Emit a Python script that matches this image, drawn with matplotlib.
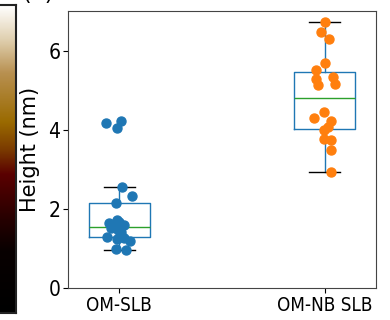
import matplotlib
matplotlib.use("Agg")
import matplotlib.pyplot as plt
import numpy as np
from matplotlib.colors import LinearSegmentedColormap

# data
groups = ["OM-SLB", "OM-NB SLB"]
slb_height = [4.17, 4.05, 4.22, 2.55, 2.32, 2.16, 1.72, 1.68, 1.64, 1.60, 1.54,
              1.51, 1.47, 1.42, 1.35, 1.28, 1.26, 1.24, 1.20, 0.98, 0.95]
slb_jitter = [-0.065, -0.013, 0.008, 0.015, 0.063, -0.015, -0.01, 0.0, -0.05, 0.024, -0.024,
              -0.04, -0.005, 0.01, 0.008, -0.06, 0.024, -0.01, 0.05, -0.016, 0.033]
nb_height = [6.73, 6.46, 6.29, 5.68, 5.52, 5.32, 5.28, 5.15, 5.14, 4.44, 4.29,
             4.23, 4.08, 4.00, 3.77, 3.73, 3.48, 2.93]
nb_jitter = [0.0, -0.016, 0.02, 0.0, -0.04, 0.04, -0.04, 0.052, -0.034, -0.005, -0.054,
             0.033, 0.015, -0.005, -0.003, 0.03, 0.03, 0.033]
yticks = [0, 2, 4, 6]

# colour scale of the AFM image (bottom -> top)
cbar_stops = [0.0, 0.2, 0.3, 0.45, 0.53, 0.62, 0.78, 0.89, 1.0]
cbar_colors = ["#000000", "#080000", "#250000", "#5a0000", "#7a3a00",
               "#9a6a00", "#b89050", "#e0d0b0", "#ffffff"]

fig = plt.figure(figsize=(3.9, 3.2), dpi=100)

cmap = LinearSegmentedColormap.from_list("afm", list(zip(cbar_stops, cbar_colors)))
cax = fig.add_axes([-0.02, 0.022, 0.061, 0.962])
cax.imshow(np.linspace(0, 1, 256)[:, None], cmap=cmap, aspect="auto", origin="lower")
cax.set_xticks([])
cax.set_yticks([])
for s in cax.spines.values():
    s.set_color("#222222")
    s.set_linewidth(1.5)

fig.text(22 / 390, 1.0, "(b)", fontsize=16, va="baseline")

ax = fig.add_axes([0.1744, 0.1, 0.7897, 0.8656])
pos = [0, 1]
ax.boxplot([slb_height, nb_height], positions=pos, widths=0.3, showfliers=False,
           boxprops=dict(color="C0"), whiskerprops=dict(color="C0"),
           medianprops=dict(color="C2"), capprops=dict(color="k"))
ax.scatter(np.array(slb_jitter) + pos[0], slb_height, s=42, color="C0", zorder=3)
ax.scatter(np.array(nb_jitter) + pos[1], nb_height, s=42, color="C1", zorder=3)

ax.set_xlim(-0.25, 1.25)
ax.set_ylim(0, 7)
ax.set_xticks(pos)
ax.set_xticklabels(groups, fontsize=13.5, fontstretch="condensed")
ax.set_yticks(yticks)
ax.set_yticklabels([str(t) for t in yticks], fontsize=15, fontstretch="condensed")
ax.tick_params(pad=2)
ax.set_ylabel("Height (nm)", fontsize=15, labelpad=6)
for s in ax.spines.values():
    s.set_color("#444444")

fig.savefig("out.png", dpi=100)
